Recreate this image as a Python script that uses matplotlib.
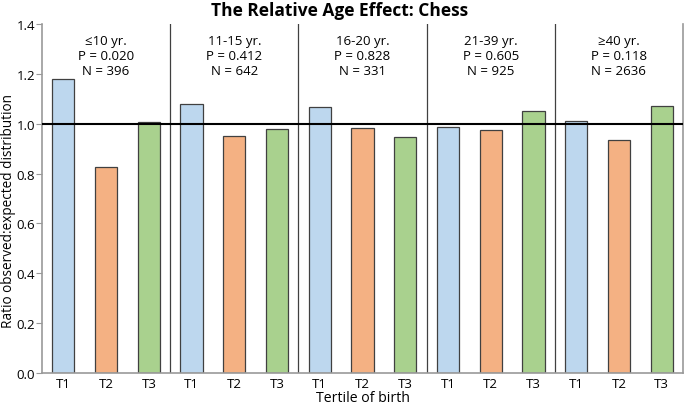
import matplotlib
matplotlib.use('Agg')
import matplotlib.pyplot as plt
import numpy as np

# Data
age_groups = ['≤10 yr.', '11-15 yr.', '16-20 yr.', '21-39 yr.', '≥40 yr.']
p_values = ['0.020', '0.412', '0.828', '0.605', '0.118']
n_values = [396, 642, 331, 925, 2636]
tertiles = ['T1', 'T2', 'T3']
t1 = [1.179, 1.078, 1.067, 0.985, 1.009]
t2 = [0.826, 0.951, 0.984, 0.976, 0.933]
t3 = [1.008, 0.979, 0.947, 1.051, 1.071]

colors = ['#BDD7EE', '#F4B183', '#A9D18E']

plt.rcParams['font.family'] = ['Open Sans', 'DejaVu Sans']

fig = plt.figure(figsize=(6.85, 4.06), dpi=100)
ax = fig.add_axes([42 / 685, 32 / 406, (683 - 42) / 685, (374 - 25) / 406])

# one bar per tertile per age group
values = [t1, t2, t3]
n_groups = len(age_groups)
for g in range(n_groups):
    for k in range(3):
        x = g * 3 + k
        ax.bar(x, values[k][g], width=0.52, color=colors[k],
               edgecolor='#404040', linewidth=0.9, zorder=2)

# group separators
for g in range(1, n_groups):
    ax.axvline(g * 3 - 0.5, color='#404040', linewidth=0.9, zorder=1)

# reference line at 1.0
ax.axhline(1.0, color='black', linewidth=1.5, zorder=3)

# group annotations
for g in range(n_groups):
    cx = g * 3 + 1
    ax.text(cx, 1.333, age_groups[g], ha='center', va='center', fontsize=9.5)
    ax.text(cx, 1.273, 'P = ' + p_values[g], ha='center', va='center', fontsize=9.5)
    ax.text(cx, 1.213, 'N = ' + str(n_values[g]), ha='center', va='center', fontsize=9.5)

ax.set_xlim(-0.5, 3 * n_groups - 0.5)
ax.set_ylim(0, 1.4)
ax.set_yticks(np.arange(0, 1.41, 0.2))
ax.set_yticklabels(['%.1f' % v for v in np.arange(0, 1.41, 0.2)], fontsize=9.5)
ax.set_xticks(range(3 * n_groups))
ax.set_xticklabels(tertiles * n_groups, fontsize=9.5)
ax.tick_params(axis='x', length=0, pad=3)
ax.tick_params(axis='y', length=4, color='#999999', pad=1)

for side in ['left', 'bottom', 'right']:
    ax.spines[side].set_color('#999999')
    ax.spines[side].set_linewidth(1.2)
ax.spines['top'].set_visible(False)

ax.set_xlabel('Tertile of birth', fontsize=10.2, labelpad=0)
ax.set_ylabel('Ratio observed:expected distribution', fontsize=9.8)
ax.yaxis.set_label_coords(-0.040, 0.467)

fig.text(0.495, 0.995, 'The Relative Age Effect: Chess', ha='center', va='top',
         fontsize=12.5, fontweight='bold')

fig.savefig('out.png', dpi=100)
